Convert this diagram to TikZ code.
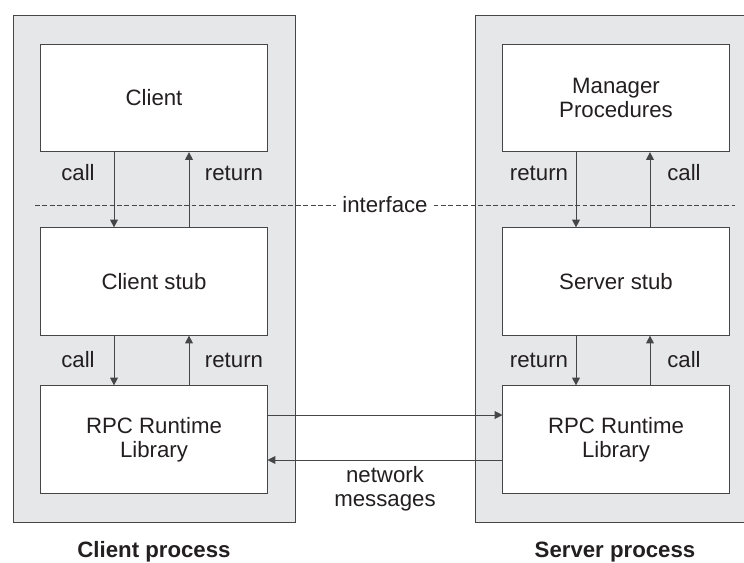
\documentclass[tikz,border=0pt]{standalone}
\usepackage{fontspec}
\setmainfont{Liberation Sans}
\usetikzlibrary{arrows.meta}
\definecolor{panelgray}{RGB}{230,231,232}
\definecolor{linegray}{RGB}{70,70,70}
\definecolor{txt}{RGB}{35,31,32}
\tikzset{
  box/.style={draw=linegray,fill=white,line width=0.7pt,minimum width=5.65cm,minimum height=2.68cm,align=center,text=txt},
  lbl/.style={text=txt},
  link/.style={draw=linegray,line width=0.7pt,-{Triangle[length=5.5pt,width=5.5pt]}},
}
\begin{document}
\begin{tikzpicture}[x=0.025cm,y=-0.025cm,font=\fontsize{15.8}{17}\selectfont]
\useasboundingbox (0,0) rectangle (744,562);
% Processus
\filldraw[fill=panelgray,draw=linegray,line width=0.7pt] (13,15) rectangle (295,522);
\filldraw[fill=panelgray,draw=linegray,line width=0.7pt] (475,15) rectangle (750,522);
\node[lbl,font=\fontsize{15.8}{17}\selectfont\bfseries] (cproc) at (154,552){Client process};
\node[lbl,font=\fontsize{15.8}{17}\selectfont\bfseries] (sproc) at (615,552){Server process};
% Client
\node[box] (client) at (154,98){Client};
\node[box] (cstub) at (154,281.5){Client stub};
\node[box] (crpc) at (154,439.5){RPC Runtime\\Library};
% Serveur
\node[box] (manager) at (616,98){Manager\\Procedures};
\node[box] (sstub) at (616,281.5){Server stub};
\node[box] (srpc) at (616,439.5){RPC Runtime\\Library};
% Interface
\coordinate (ifl) at (35,205);
\coordinate (ifr) at (735,205);
\node[lbl,inner sep=4pt] (iface) at (385,205){interface};
\draw[linegray,line width=0.6pt,dash pattern=on 3.5pt off 1.8pt] (ifl)--(iface.west);
\draw[linegray,line width=0.6pt,dash pattern=on 3.5pt off 1.8pt] (iface.east)--(ifr);
% Appels et retours
\coordinate (lcall) at (114,0);
\coordinate (lret) at (189,0);
\coordinate (rret) at (576,0);
\coordinate (rcall) at (650,0);
\draw[link] (client.south -| lcall)--(cstub.north -| lcall);
\draw[link] (cstub.north -| lret)--(client.south -| lret);
\draw[link] (cstub.south -| lcall)--(crpc.north -| lcall);
\draw[link] (crpc.north -| lret)--(cstub.south -| lret);
\draw[link] (manager.south -| rret)--(sstub.north -| rret);
\draw[link] (sstub.north -| rcall)--(manager.south -| rcall);
\draw[link] (sstub.south -| rret)--(srpc.north -| rret);
\draw[link] (srpc.north -| rcall)--(sstub.south -| rcall);
\node[lbl] (call1) at (78,173){call};
\node[lbl] (ret1) at (234,173){return};
\node[lbl] (call2) at (78,360){call};
\node[lbl] (ret2) at (234,360){return};
\node[lbl] (ret3) at (539,173){return};
\node[lbl] (call3) at (684,173){call};
\node[lbl] (ret4) at (539,360){return};
\node[lbl] (call4) at (684,360){call};
% Messages reseau
\coordinate (net1) at (0,415);
\coordinate (net2) at (0,460);
\draw[link] (crpc.east |- net1)--(srpc.west |- net1);
\draw[link] (srpc.west |- net2)--(crpc.east |- net2);
\node[lbl,align=center] (net) at (385,489){network\\messages};
\end{tikzpicture}
\end{document}
